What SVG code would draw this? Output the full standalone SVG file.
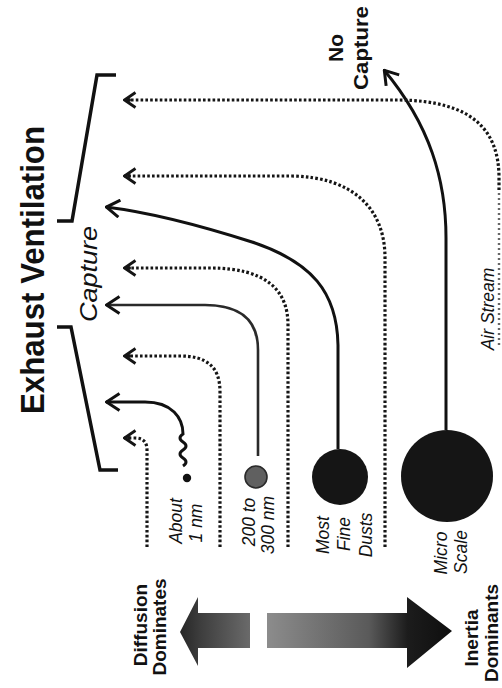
<svg xmlns="http://www.w3.org/2000/svg" width="502" height="688" viewBox="0 0 502 688">
<style>
  text { font-family: "Liberation Sans", Arial, Helvetica, sans-serif; fill: #111; }
  .title { font-size: 33px; font-weight: bold; }
  .bold { font-size: 21px; font-weight: bold; }
  .lbl { font-size: 17.5px; font-style: italic; }
  .cap { font-size: 24px; font-style: italic; }
  .bottom { font-size: 19px; font-weight: bold; }
  .bracket { fill: none; stroke: #111; stroke-width: 3.5; stroke-linejoin: miter; }
  .solid { fill: none; stroke: #111; stroke-width: 3; marker-end: url(#arrS); }
  .thin { fill: none; stroke: #2a2a2a; stroke-width: 2.6; marker-end: url(#arrS); }
  .dot { fill: none; stroke: #151515; stroke-width: 3.2; stroke-dasharray: 2.6 2.2; marker-end: url(#arrD); }
  .faint { fill: none; stroke: #666; stroke-width: 2.4; stroke-dasharray: 2 3; }
</style>
<defs>
  <marker id="arrS" viewBox="0 0 16 20" refX="15" refY="10" markerWidth="16" markerHeight="20" orient="auto" markerUnits="userSpaceOnUse">
    <path d="M1.5,1.5 L14.5,10 L1.5,18.5" fill="none" stroke="#111" stroke-width="3" stroke-dasharray="none"/>
  </marker>
  <marker id="arrD" viewBox="0 0 14 18" refX="13" refY="9" markerWidth="14" markerHeight="18" orient="auto" markerUnits="userSpaceOnUse">
    <path d="M1.5,1.5 L12.5,9 L1.5,16.5" fill="none" stroke="#151515" stroke-width="2.8" stroke-dasharray="none"/>
    <circle cx="8" cy="9" r="2" fill="#151515"/>
  </marker>
  <linearGradient id="gLeft" gradientUnits="userSpaceOnUse" x1="180" y1="0" x2="250" y2="0">
    <stop offset="0" stop-color="#262626"/>
    <stop offset="0.3" stop-color="#3e3e3e"/>
    <stop offset="1" stop-color="#6a6a6a"/>
  </linearGradient>
  <linearGradient id="gRight" gradientUnits="userSpaceOnUse" x1="267" y1="0" x2="452" y2="0">
    <stop offset="0" stop-color="#8c8c8c"/>
    <stop offset="0.55" stop-color="#5a5a5a"/>
    <stop offset="0.76" stop-color="#1c1c1c"/>
    <stop offset="1" stop-color="#0e0e0e"/>
  </linearGradient>
</defs>

<rect x="0" y="0" width="502" height="688" fill="#fff"/>

<g id="title">
  <text class="title" transform="translate(44,270) rotate(-90)" text-anchor="middle" textLength="288" lengthAdjust="spacingAndGlyphs">Exhaust Ventilation</text>
</g>

<g id="brackets">
  <path class="bracket" d="M116,75 L97,75 L72,221 L57,221"/>
  <path class="bracket" d="M57,327 L71,327 L100,470 L118,470"/>
</g>

<g id="capture-label">
  <text class="cap" transform="translate(97,274) rotate(-90)" text-anchor="middle" textLength="96" lengthAdjust="spacingAndGlyphs">Capture</text>
</g>

<g id="no-capture-label">
  <text class="bold" transform="translate(343,48) rotate(-90)" text-anchor="middle">No</text>
  <text class="bold" transform="translate(368,48) rotate(-90)" text-anchor="middle" textLength="84" lengthAdjust="spacingAndGlyphs">Capture</text>
</g>

<g id="air-stream-label">
  <text class="lbl" transform="translate(494,309) rotate(-90)" text-anchor="middle">Air Stream</text>
</g>

<g id="connectors">
  <path class="dot" d="M147,547 L147,450 Q147,438 135,438 L124,438"/>
  <path class="solid" d="M183,466 q6,-4 0,-8 q-6,-4 0,-8 q6,-4 0,-8 q-6,-4 0,-8 C183,418 172,402 145,402 L106,402"/>
  <path class="dot" d="M220,547 L220,392 C220,366 206,356 180,356 L124,356"/>
  <path class="thin" d="M258,456 L258,350 C258,322 242,305 205,305 L106,305"/>
  <path class="dot" d="M288,547 L288,325 C288,290 266,268 210,268 L124,268"/>
  <path class="solid" d="M338,449 L338,345 C337,292 312,262 252,242 C205,227 155,213 106,207"/>
  <path class="dot" d="M385,547 L385,258 C385,208 352,177 292,176 L124,176"/>
  <path class="solid" d="M446,430 L446,238 C446,180 430,125 384,70"/>
  <path class="dot" d="M499,190 L499,178 C499,128 470,101 400,100 L124,100"/>
  <path class="faint" d="M499,345 L499,190"/>
</g>

<g id="particle-1nm">
  <circle cx="187" cy="478" r="4.2" fill="#111"/>
  <text class="lbl" transform="translate(182,521) rotate(-90)" text-anchor="middle">About</text>
  <text class="lbl" transform="translate(202,523) rotate(-90)" text-anchor="middle">1 nm</text>
</g>

<g id="particle-200nm">
  <circle cx="256" cy="477" r="11" fill="#606060" stroke="#2a2a2a" stroke-width="1.6"/>
  <text class="lbl" transform="translate(255,522) rotate(-90)" text-anchor="middle">200 to</text>
  <text class="lbl" transform="translate(274,525) rotate(-90)" text-anchor="middle">300 nm</text>
</g>

<g id="particle-fine-dust">
  <circle cx="340" cy="477" r="28" fill="#151515"/>
  <text class="lbl" transform="translate(329,535) rotate(-90)" text-anchor="middle">Most</text>
  <text class="lbl" transform="translate(350,534) rotate(-90)" text-anchor="middle">Fine</text>
  <text class="lbl" transform="translate(372,535) rotate(-90)" text-anchor="middle">Dusts</text>
</g>

<g id="particle-micro">
  <circle cx="447" cy="476" r="46" fill="#151515"/>
  <text class="lbl" transform="translate(447,553) rotate(-90)" text-anchor="middle">Micro</text>
  <text class="lbl" transform="translate(467,552) rotate(-90)" text-anchor="middle">Scale</text>
</g>

<g id="diffusion">
  <polygon points="180,632 198,597 198,613 250,613 250,648 198,648 198,666" fill="url(#gLeft)"/>
  <text class="bottom" transform="translate(147,625) rotate(-90)" text-anchor="middle">Diffusion</text>
  <text class="bottom" transform="translate(166,627) rotate(-90)" text-anchor="middle">Dominates</text>
</g>

<g id="inertia">
  <polygon points="267,613 407,613 407,597 452,631 407,668 407,648 267,648" fill="url(#gRight)"/>
  <text class="bottom" transform="translate(478,638) rotate(-90)" text-anchor="middle">Inertia</text>
  <text class="bottom" transform="translate(498,633) rotate(-90)" text-anchor="middle">Dominants</text>
</g>
</svg>
